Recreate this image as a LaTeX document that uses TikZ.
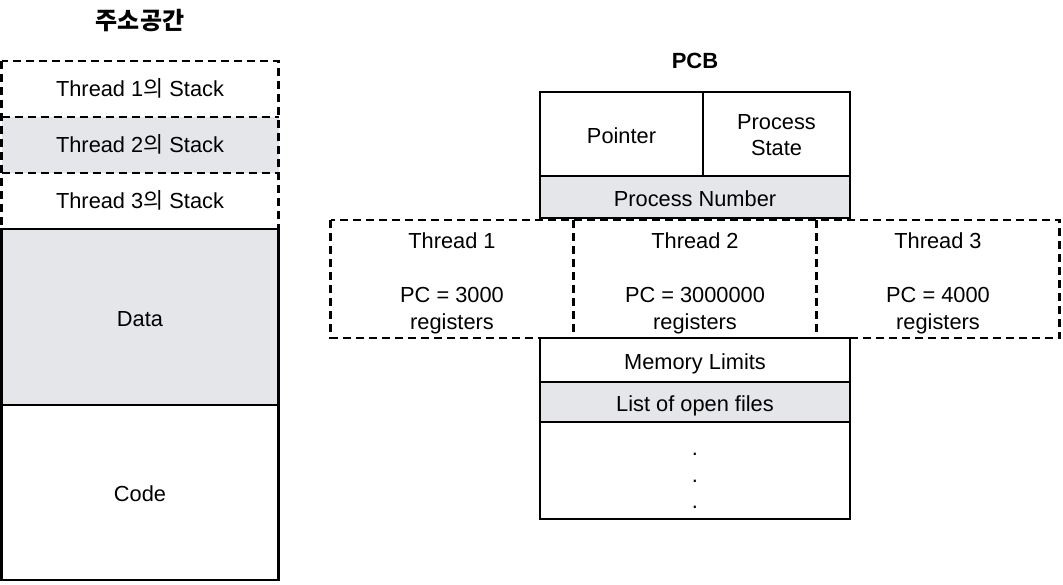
\documentclass[tikz,border=0pt]{standalone}
\usepackage{fontspec}
\setmainfont{Liberation Sans}
\newfontfamily\kr{Noto Sans CJK KR}
\usepackage{tikz}
\usetikzlibrary{positioning}
\definecolor{pcbgray}{RGB}{229,230,234}
\newcommand{\bodyfont}{\fontsize{21.8}{27}\selectfont}

\begin{document}
\begin{tikzpicture}[x=1pt, y=1pt, inner sep=0pt, outer sep=0pt, line width=2.6pt,
   boxed/.style={draw, rectangle, align=center, font=\bodyfont},
   cell/.style={boxed, text height=21pt, text depth=3pt},
   bare/.style={rectangle, align=center, font=\bodyfont},
   dashline/.style={dash pattern=on 8pt off 5pt},
   shaded/.style={fill=pcbgray},
   stackbox/.style={bare, minimum width=277pt, minimum height=56pt, text height=17.4pt, text depth=3pt},
   segbox/.style={cell, minimum width=277pt, minimum height=176pt},
   thrbox/.style={bare, minimum width=243pt, minimum height=118pt},
   pcbbox/.style={cell, minimum width=310pt}]
   \useasboundingbox (0,0) rectangle (1063,-584);
   \node[font=\kr\bfseries\fontsize{24}{28}\selectfont] (as) at (140,-21) {주소공간};
   \node[stackbox] (st1) at (140,-89) {Thread 1{\kr 의} Stack};
   \node[stackbox, shaded] (st2) [below=0pt of st1] {Thread 2{\kr 의} Stack};
   \node[stackbox] (st3) [below=0pt of st2] {Thread 3{\kr 의} Stack};
   \draw[dashline] (st1.north west) rectangle (st3.south east);
   \draw[dashline] (st1.south west) -- (st1.south east)
                   (st2.south west) -- (st2.south east);
   \node[segbox, shaded] (data) [below=0pt of st3] {Data};
   \node[segbox, minimum height=175pt] (code) [below=0pt of data] {Code};

   \node[font=\bfseries\fontsize{22}{26}\selectfont] (pcb) at (695,-61) {PCB};
   \node[cell, minimum width=163pt, minimum height=84pt] (ptr) at (621.5,-134) {Pointer};
   \node[boxed, minimum width=147pt, minimum height=84pt] (state) [right=0pt of ptr] {\rule{0pt}{17pt}Process\\[-1pt]State};
   \node[pcbbox, shaded, minimum height=42pt] (pnum) [below=0pt of ptr.south west, anchor=north west] {Process Number};
   \node[thrbox] (th2) [below=2pt of pnum] {\rule{0pt}{24.6pt}Thread 2\\[27pt]PC = 3000000\\registers};
   \node[thrbox] (th1) [left=0pt of th2] {\rule{0pt}{24.6pt}Thread 1\\[27pt]PC = 3000\\registers};
   \node[thrbox] (th3) [right=0pt of th2] {\rule{0pt}{24.6pt}Thread 3\\[27pt]PC = 4000\\registers};
   \draw[dashline] (th1.north west) rectangle (th3.south east);
   \draw[dashline] (th1.north east) -- (th1.south east)
                   (th2.north east) -- (th2.south east);
   \node[pcbbox, minimum height=44pt] (mem) [below=0pt of th2] {Memory Limits};
   \node[pcbbox, shaded, minimum height=40pt] (files) [below=0pt of mem] {List of open files};
   \node[boxed, minimum width=310pt, minimum height=97pt] (more) [below=0pt of files] {\rule{0pt}{23pt}.\\[-0.5pt].\\[-0.5pt].};
\end{tikzpicture}
\end{document}
